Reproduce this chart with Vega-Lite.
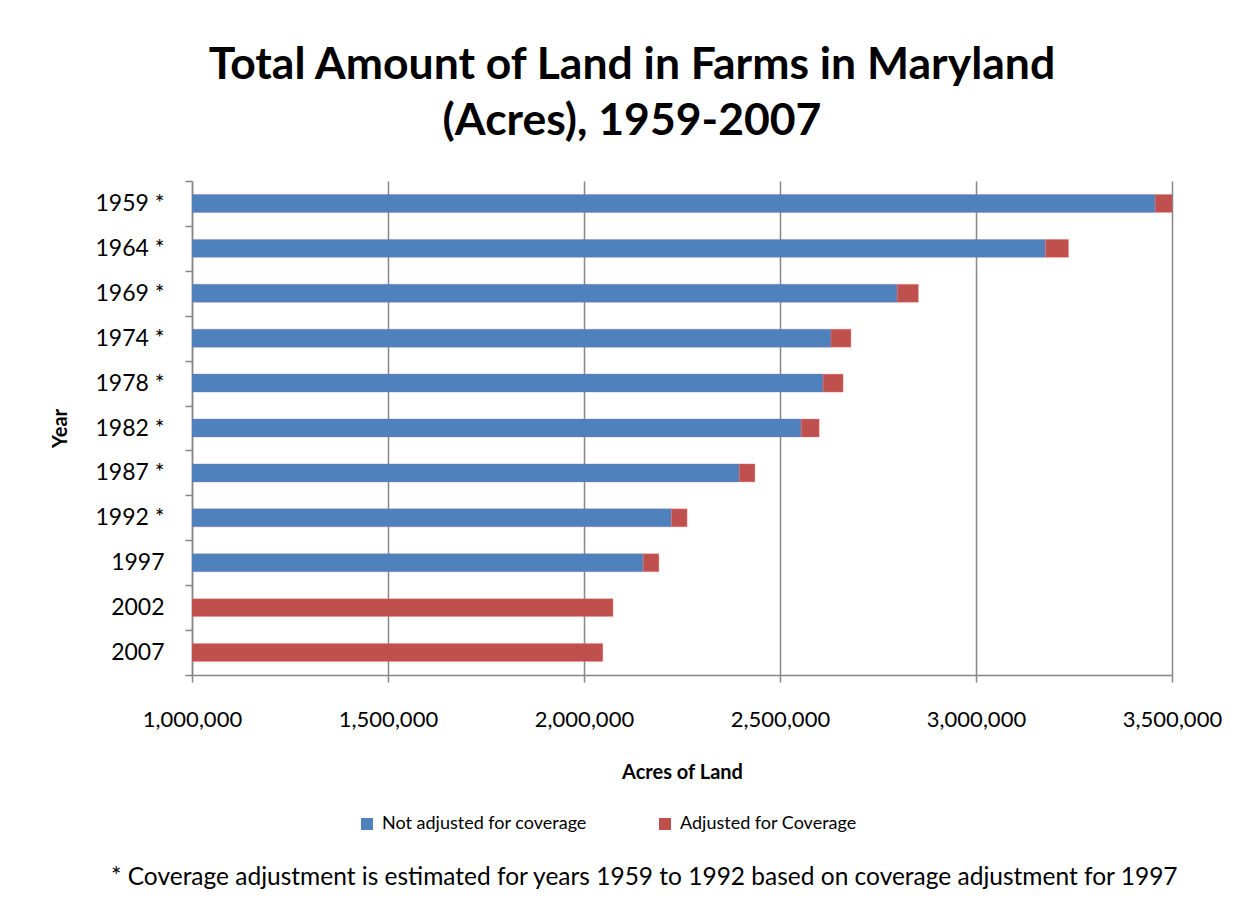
{
  "$schema": "https://vega.github.io/schema/vega-lite/v6.json",
  "background": "white",
  "padding": {"left": 50, "top": 42, "right": 10, "bottom": 10},
  "title": {
    "text": "* Coverage adjustment is estimated for years 1959 to 1992 based on coverage adjustment for 1997",
    "orient": "bottom",
    "anchor": "middle",
    "font": "Lato",
    "fontSize": 24.5,
    "fontWeight": "normal",
    "color": "black",
    "offset": 33,
    "dx": 8
  },
  "resolve": {"legend": {"color": "independent"}},
  "vconcat": [
    {
      "title": {
        "text": ["Total Amount of Land in Farms in Maryland", "(Acres), 1959-2007"],
        "font": "Lato",
        "fontSize": 44.5,
        "fontWeight": "bold",
        "lineHeight": 56,
        "anchor": "middle",
        "dx": -50,
        "offset": 26,
        "color": "black"
      },
      "width": 980,
      "height": 494,
      "data": {
        "values": [
          {"year": "1959 *", "series": "Not adjusted for coverage", "acres": 3457000},
          {"year": "1959 *", "series": "Adjusted for Coverage", "acres": 51000},
          {"year": "1964 *", "series": "Not adjusted for coverage", "acres": 3177000},
          {"year": "1964 *", "series": "Adjusted for Coverage", "acres": 59000},
          {"year": "1969 *", "series": "Not adjusted for coverage", "acres": 2799000},
          {"year": "1969 *", "series": "Adjusted for Coverage", "acres": 54000},
          {"year": "1974 *", "series": "Not adjusted for coverage", "acres": 2630000},
          {"year": "1974 *", "series": "Adjusted for Coverage", "acres": 51000},
          {"year": "1978 *", "series": "Not adjusted for coverage", "acres": 2610000},
          {"year": "1978 *", "series": "Adjusted for Coverage", "acres": 51000},
          {"year": "1982 *", "series": "Not adjusted for coverage", "acres": 2554000},
          {"year": "1982 *", "series": "Adjusted for Coverage", "acres": 46000},
          {"year": "1987 *", "series": "Not adjusted for coverage", "acres": 2396000},
          {"year": "1987 *", "series": "Adjusted for Coverage", "acres": 40000},
          {"year": "1992 *", "series": "Not adjusted for coverage", "acres": 2223000},
          {"year": "1992 *", "series": "Adjusted for Coverage", "acres": 40000},
          {"year": "1997", "series": "Not adjusted for coverage", "acres": 2151000},
          {"year": "1997", "series": "Adjusted for Coverage", "acres": 40000},
          {"year": "2002", "series": "Adjusted for Coverage", "acres": 2074000},
          {"year": "2007", "series": "Adjusted for Coverage", "acres": 2048000}
        ]
      },
      "mark": {"type": "bar", "clip": true, "height": {"band": 0.4}, "strokeWidth": 1, "strokeOpacity": 0.35},
      "encoding": {
        "y": {
          "field": "year",
          "type": "nominal",
          "sort": null,
          "title": "Year",
          "scale": {"paddingInner": 0, "paddingOuter": 0},
          "axis": {
            "tickBand": "extent",
            "ticks": true,
            "tickSize": 7,
            "tickColor": "#868686",
            "tickWidth": 1.5,
            "domainColor": "#868686",
            "domainWidth": 1.5,
            "labelFont": "Lato",
            "labelFontSize": 23,
            "labelColor": "black",
            "labelPadding": 21,
            "titleFont": "Lato",
            "titleFontSize": 20,
            "titleFontWeight": "bold",
            "titleColor": "black",
            "titlePadding": 24,
            "grid": false
          }
        },
        "x": {
          "field": "acres",
          "type": "quantitative",
          "stack": "zero",
          "scale": {"domain": [1000000, 3500000], "zero": false, "nice": false},
          "axis": {
            "values": [1000000, 1500000, 2000000, 2500000, 3000000, 3500000],
            "format": ",.0f",
            "title": "Acres of Land",
            "grid": true,
            "gridColor": "#868686",
            "gridWidth": 1.5,
            "tickSize": 7,
            "tickColor": "#868686",
            "tickWidth": 1.5,
            "domainColor": "#868686",
            "domainWidth": 1.5,
            "labelFont": "Lato",
            "labelFontSize": 22,
            "labelColor": "black",
            "labelPadding": 27,
            "labelFlush": false,
            "titleFont": "Lato",
            "titleFontSize": 20,
            "titleFontWeight": "bold",
            "titleColor": "black",
            "titlePadding": 32
          }
        },
        "color": {
          "field": "series",
          "type": "nominal",
          "scale": {
            "domain": ["Not adjusted for coverage", "Adjusted for Coverage"],
            "range": ["#4F81BD", "#C0504D"]
          },
          "legend": {
            "title": null,
            "orient": "none",
            "legendX": 166,
            "legendY": 634,
            "direction": "horizontal",
            "symbolType": "square",
            "symbolSize": 144,
            "symbolStrokeWidth": 0,
            "labelFont": "Lato",
            "labelFontSize": 18,
            "labelColor": "black",
            "labelOffset": 6,
            "labelLimit": 400,
            "columnPadding": 69
          }
        },
        "stroke": {
          "field": "series",
          "type": "nominal",
          "scale": {
            "domain": ["Not adjusted for coverage", "Adjusted for Coverage"],
            "range": ["#8B6FA8", "#F08080"]
          },
          "legend": null
        },
        "order": {"field": "series", "sort": "descending"}
      }
    }
  ],
  "config": {"view": {"stroke": null}, "concat": {"spacing": 0}}
}
